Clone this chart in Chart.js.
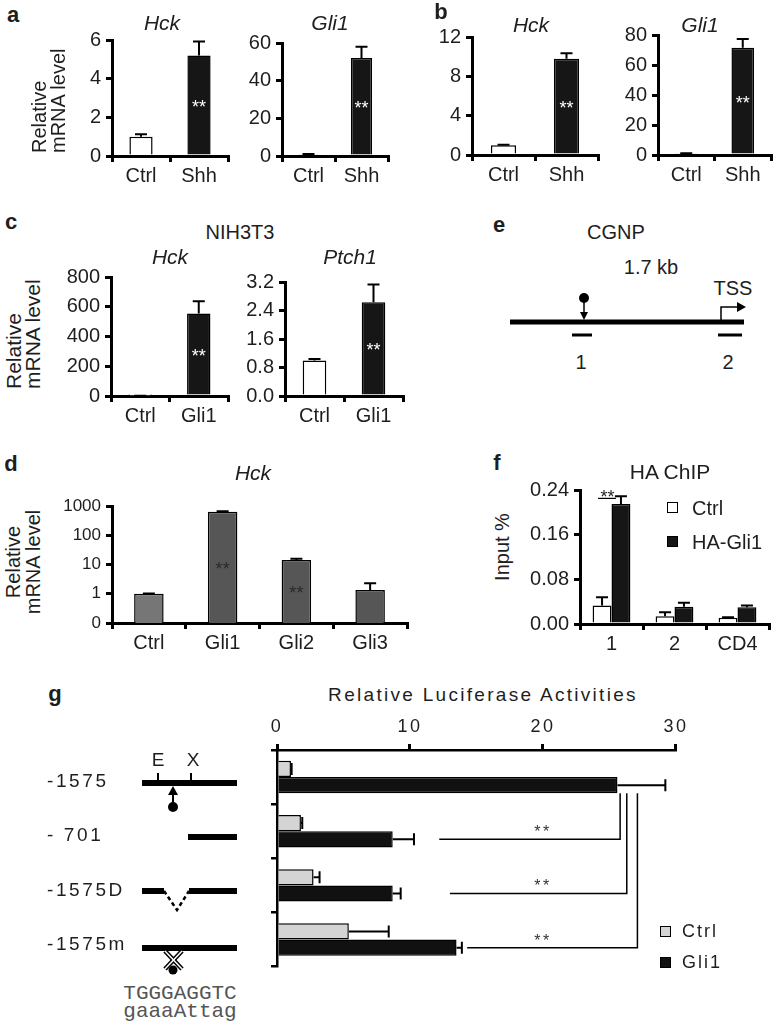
<!DOCTYPE html>
<html>
<head>
<meta charset="utf-8">
<title>Hck is a Gli1 target</title>
<script src="https://cdn.jsdelivr.net/npm/chart.js"></script>
<style>
  body { margin: 0; background: #fff; font-family: "Liberation Sans", Arial, sans-serif; color: #1e1e1e; }
  #fig { position: relative; width: 774px; height: 1021px; overflow: hidden; }
  #fig canvas { position: absolute; }
  #fig svg { position: absolute; left: 0; top: 0; }
  .t { position: absolute; white-space: nowrap; font-size: 20px; line-height: 1.1; transform: translate(-50%, -50%); }
  .L { position: absolute; white-space: nowrap; font-size: 20px; line-height: 1.1; transform: translateY(-50%); }
  .p { font-weight: bold; font-size: 22px; }
  .i { font-style: italic; font-size: 21px; }
  .r { transform: translate(-50%, -50%) rotate(-90deg); text-align: center; line-height: 20px; }
  .rs { position: absolute; white-space: nowrap; font-size: 20px; line-height: 19px; text-align: left;
        transform-origin: 0 0; transform: rotate(-90deg); }
  .g { font-size: 18px; letter-spacing: 2px; }
  .sq { position: absolute; width: 9px; height: 9px; border: 1.5px solid #000; }
  .seq { font-family: "Liberation Mono", "Courier New", monospace; font-size: 21px; color: #555; line-height: 1; }
</style>
</head>
<body>
<div id="fig">
  <svg width="774" height="1021" viewBox="0 0 774 1021">
    <!-- e: promoter scheme -->
    <line x1="510" y1="322" x2="744" y2="322" stroke="#000" stroke-width="5"/>
    <circle cx="584" cy="298" r="5" fill="#000"/>
    <line x1="584" y1="300" x2="584" y2="313" stroke="#000" stroke-width="1.5"/>
    <polygon points="580,312 588,312 584,320" fill="#000"/>
    <polyline points="721,320 721,307 737,307" fill="none" stroke="#000" stroke-width="1.5"/>
    <polygon points="737,302 746,307 737,312" fill="#000"/>
    <line x1="572" y1="335" x2="592" y2="335" stroke="#000" stroke-width="3"/>
    <line x1="718" y1="335" x2="742" y2="335" stroke="#000" stroke-width="3"/>
    <!-- g: reporter constructs -->
    <line x1="142" y1="783" x2="237" y2="783" stroke="#000" stroke-width="6"/>
    <line x1="158" y1="783" x2="158" y2="773" stroke="#000" stroke-width="2"/>
    <line x1="191" y1="783" x2="191" y2="773" stroke="#000" stroke-width="2"/>
    <polygon points="168,795 178,795 173,786" fill="#000"/>
    <line x1="173" y1="794" x2="173" y2="803" stroke="#000" stroke-width="2"/>
    <circle cx="173" cy="807" r="5" fill="#000"/>
    <line x1="188" y1="837" x2="237" y2="837" stroke="#000" stroke-width="6"/>
    <line x1="142" y1="891" x2="164" y2="891" stroke="#000" stroke-width="6"/>
    <line x1="189" y1="891" x2="237" y2="891" stroke="#000" stroke-width="6"/>
    <polyline points="164,891 177,910 189,891" fill="none" stroke="#000" stroke-width="2.5" stroke-dasharray="4,3"/>
    <line x1="142" y1="948" x2="237" y2="948" stroke="#000" stroke-width="6"/>
    <circle cx="173" cy="970" r="4.5" fill="#000"/>
    <g stroke-linecap="butt">
      <line x1="165" y1="951" x2="182" y2="969" stroke="#000" stroke-width="4.5"/>
      <line x1="182" y1="951" x2="165" y2="969" stroke="#000" stroke-width="4.5"/>
      <line x1="165" y1="951" x2="182" y2="969" stroke="#fff" stroke-width="1.5"/>
      <line x1="182" y1="951" x2="165" y2="969" stroke="#fff" stroke-width="1.5"/>
    </g>
  </svg>
</div>

<script>
  // ---- data ----
  const shhLabels = ['Ctrl', 'Shh'];
  const gliLabels = ['Ctrl', 'Gli1'];
  const sigSecond = [false, true];

  const aHck = [1.0, 5.2];      const aHckErr = [0.12, 0.72];
  const aGli1 = [0.9, 52];      const aGli1Err = [0.2, 6];
  const bHck = [1.0, 9.8];      const bHckErr = [0.05, 0.55];
  const bGli1 = [0.9, 71.5];    const bGli1Err = [0.2, 5.8];
  const cHck = [1.0, 555];      const cHckErr = [0.1, 82];
  const cPtch1 = [1.0, 2.63];   const cPtch1Err = [0.04, 0.5];

  const dLabels = ['Ctrl', 'Gli1', 'Gli2', 'Gli3'];
  const dHck = [1.0, 650, 14.5, 1.35];
  const dHckErr = [0.03, 15, 1.5, 0.95];
  const dSig = [false, true, true, false];
  const dTicks = [0.1, 1, 10, 100, 1000];

  const fLabels = ['1', '2', 'CD4'];
  const fCtrl = [0.033, 0.014, 0.011];  const fCtrlErr = [0.015, 0.007, 0.001];
  const fGli1 = [0.215, 0.031, 0.030];  const fGli1Err = [0.014, 0.007, 0.003];

  const gLabels = ['-1575', '- 701', '-1575D', '-1575m'];
  const gCtrl = [1.05, 1.8, 2.75, 5.4];    const gCtrlErr = [0.05, 0.1, 0.45, 3.0];
  const gGli1 = [25.6, 8.7, 8.7, 13.5];    const gGli1Err = [3.6, 1.6, 0.6, 0.4];
  const gBracketX = [25.8, 26.3, 27.1];
  const gBracketFrom = [12.2, 13.0, 14.3];

  Chart.defaults.font.family = '"Liberation Sans", Arial, sans-serif';
  Chart.defaults.font.size = 20;
  Chart.defaults.color = '#1e1e1e';

  const fig = document.getElementById('fig');

  function txt(html, x, y, cls, style) {
    const d = document.createElement('div');
    d.className = cls || 't';
    d.innerHTML = html;
    d.style.left = x + 'px';
    d.style.top = y + 'px';
    if (style) d.style.cssText += style;
    fig.appendChild(d);
  }

  function mkCanvas(r, m) {
    const c = document.createElement('canvas');
    const w = r[2] - r[0] + m.l + m.r, h = r[3] - r[1] + m.t + m.b;
    c.width = w; c.height = h;
    c.style.left = (r[0] - m.l) + 'px';
    c.style.top = (r[1] - m.t) + 'px';
    c.style.width = w + 'px';
    c.style.height = h + 'px';
    fig.appendChild(c);
    return c;
  }

  // one-sided error bars, drawn from the bar end outward
  const errorBars = {
    id: 'errorBars',
    afterDatasetsDraw(chart) {
      const ctx = chart.ctx;
      const horiz = chart.options.indexAxis === 'y';
      const vs = horiz ? chart.scales.x : chart.scales.y;
      chart.data.datasets.forEach((ds, i) => {
        if (!ds.errors) return;
        chart.getDatasetMeta(i).data.forEach((bar, j) => {
          const e = ds.errors[j];
          if (!e) return;
          const p1 = vs.getPixelForValue(ds.data[j]);
          const p2 = vs.getPixelForValue(ds.data[j] + e);
          const c = horiz ? bar.y : bar.x;
          const cap = 6;
          ctx.save();
          ctx.strokeStyle = '#000';
          ctx.lineWidth = 2;
          ctx.beginPath();
          if (horiz) {
            ctx.moveTo(p1, c); ctx.lineTo(p2, c);
            ctx.moveTo(p2, c - cap); ctx.lineTo(p2, c + cap);
          } else {
            ctx.moveTo(c, p1); ctx.lineTo(c, p2);
            ctx.moveTo(c - cap, p2); ctx.lineTo(c + cap, p2);
          }
          ctx.stroke();
          ctx.restore();
        });
      });
    }
  };

  // "**" written in the middle of the bar
  const stars = {
    id: 'stars',
    afterDatasetsDraw(chart) {
      const ctx = chart.ctx;
      chart.data.datasets.forEach((ds, i) => {
        if (!ds.stars) return;
        chart.getDatasetMeta(i).data.forEach((bar, j) => {
          if (!ds.stars[j]) return;
          ctx.save();
          ctx.fillStyle = ds.starColor || '#fff';
          ctx.font = '18px "Liberation Sans", Arial';
          ctx.textAlign = 'center';
          ctx.textBaseline = 'middle';
          ctx.fillText('**', bar.x, (bar.y + bar.base) / 2 + 3);
          ctx.restore();
        });
      });
    }
  };

  const axisGrid = { drawOnChartArea: false, drawTicks: true, tickLength: 6, lineWidth: 3, color: '#000' };
  const axisBorder = { display: true, width: 3, color: '#000' };

  function yLin(max, step, dec) {
    return {
      min: 0, max: max, grid: axisGrid, border: axisBorder,
      ticks: { stepSize: step, padding: 5, callback: v => v.toFixed(dec) }
    };
  }

  function vBar(r, m, labels, datasets, y, xFont, extra) {
    y.afterFit = s => { s.width = m.l; };
    return new Chart(mkCanvas(r, m), {
      type: 'bar',
      data: { labels: labels, datasets: datasets },
      options: Object.assign({
        responsive: false,
        animation: false,
        layout: { padding: { top: m.t, right: m.r, left: 0, bottom: 0 } },
        plugins: { legend: { display: false }, tooltip: { enabled: false } },
        datasets: { bar: { categoryPercentage: 1, barPercentage: 0.4, borderWidth: 1.5, borderColor: '#000' } },
        scales: {
          x: {
            grid: Object.assign({ offset: true }, axisGrid), border: axisBorder,
            ticks: { padding: 2, font: { size: xFont || 20 } },
            afterFit: s => { s.height = m.b; }
          },
          y: y
        }
      }, extra || {}),
      plugins: [errorBars, stars]
    });
  }

  function pair(vals, errs) {
    return [{
      data: vals, errors: errs, stars: sigSecond,
      backgroundColor: ['#fff', '#161616']
    }];
  }

  const M = { l: 52, t: 12, r: 6, b: 36 };

  // ---- a ----
  vBar([112, 35, 228, 156], M, shhLabels, pair(aHck, aHckErr), yLin(6, 2, 0));
  vBar([282, 38, 388, 156], M, shhLabels, pair(aGli1, aGli1Err), yLin(60, 20, 0));
  // ---- b ----
  vBar([472, 32, 598, 155], M, shhLabels, pair(bHck, bHckErr), yLin(12, 4, 0));
  vBar([658, 30, 771, 155], { l: 52, t: 12, r: 3, b: 36 }, shhLabels, pair(bGli1, bGli1Err), yLin(80, 20, 0));
  // ---- c ----
  vBar([111, 272, 228, 396], M, gliLabels, pair(cHck, cHckErr), yLin(800, 200, 0));
  vBar([285, 277, 403, 396], M, gliLabels, pair(cPtch1, cPtch1Err), yLin(3.2, 0.8, 1));

  // ---- d (log scale) ----
  vBar([112, 503, 407, 623], { l: 60, t: 12, r: 6, b: 36 }, dLabels, [{
    data: dHck, errors: dHckErr, stars: dSig, starColor: '#2a2a2a',
    backgroundColor: ['#767676', '#565656', '#565656', '#565656']
  }], {
    type: 'logarithmic', min: 0.1, max: 1000, grid: axisGrid, border: axisBorder,
    afterBuildTicks: s => { s.ticks = dTicks.map(v => ({ value: v })); },
    ticks: { padding: 5, font: { size: 17 }, callback: v => (v < 1 ? '0' : String(v)) }
  });

  // ---- f (grouped) ----
  const fSig = {
    id: 'fSig',
    afterDatasetsDraw(chart) {
      const ctx = chart.ctx;
      const a = chart.getDatasetMeta(0).data[0], b = chart.getDatasetMeta(1).data[0];
      const y = chart.scales.y.getPixelForValue(0.225);
      ctx.save();
      ctx.strokeStyle = '#000'; ctx.lineWidth = 1.2;
      ctx.beginPath(); ctx.moveTo(a.x - 4, y); ctx.lineTo(b.x - 5, y); ctx.stroke();
      ctx.fillStyle = '#1e1e1e'; ctx.font = '18px "Liberation Sans", Arial';
      ctx.textAlign = 'center'; ctx.textBaseline = 'alphabetic';
      ctx.fillText('**', (a.x + b.x) / 2 - 4, y + 5);
      ctx.restore();
    }
  };
  const fy = yLin(0.24, 0.08, 2);
  const fChart = vBar([580, 485, 769, 624], { l: 62, t: 12, r: 4, b: 38 }, fLabels, [
    { label: 'Ctrl', data: fCtrl, errors: fCtrlErr, backgroundColor: '#fff' },
    { label: 'HA-Gli1', data: fGli1, errors: fGli1Err, backgroundColor: '#161616' }
  ], fy, 20, { datasets: { bar: { categoryPercentage: 0.6, barPercentage: 1, borderWidth: 1.5, borderColor: '#000' } } });
  fChart.config.plugins.push(fSig);
  fChart.update();

  // ---- g (horizontal) ----
  const spacing = {
    id: 'spacing',
    beforeDraw(chart) { chart.ctx.letterSpacing = '2.6px'; }
  };
  const gBrackets = {
    id: 'gBrackets',
    afterDatasetsDraw(chart) {
      const ctx = chart.ctx, xs = chart.scales.x;
      const bars = chart.getDatasetMeta(1).data;
      const top = bars[0].y + bars[0].height / 2;
      ctx.save();
      ctx.strokeStyle = '#000'; ctx.lineWidth = 1.5;
      ctx.fillStyle = '#333'; ctx.font = '16px "Liberation Sans", Arial';
      ctx.textAlign = 'center'; ctx.textBaseline = 'alphabetic';
      gBracketX.forEach((bx, k) => {
        const y = bars[k + 1].y;
        const px = xs.getPixelForValue(bx);
        ctx.beginPath();
        ctx.moveTo(px, top); ctx.lineTo(px, y);
        ctx.lineTo(xs.getPixelForValue(gBracketFrom[k]), y);
        ctx.stroke();
        ctx.fillText('**', xs.getPixelForValue(20), y - 2);
      });
      ctx.restore();
    }
  };
  const gm = { l: 230, t: 36, r: 10, b: 6 };
  new Chart(mkCanvas([277, 750, 682, 975], gm), {
    type: 'bar',
    data: {
      labels: gLabels,
      datasets: [
        { label: 'Ctrl', data: gCtrl, errors: gCtrlErr, backgroundColor: '#d4d4d4' },
        { label: 'Gli1', data: gGli1, errors: gGli1Err, backgroundColor: '#111' }
      ]
    },
    options: {
      indexAxis: 'y',
      responsive: false,
      animation: false,
      layout: { padding: { top: 0, right: gm.r, left: 0, bottom: gm.b } },
      plugins: { legend: { display: false }, tooltip: { enabled: false } },
      datasets: { bar: { categoryPercentage: 0.6, barPercentage: 1, borderWidth: 1.5, borderColor: '#000' } },
      scales: {
        x: {
          position: 'top', min: 0, max: 30,
          grid: axisGrid, border: { display: true, width: 2.5, color: '#000' },
          ticks: { stepSize: 10, padding: 6, font: { size: 18 } },
          afterFit: s => { s.height = gm.t; }
        },
        y: {
          grid: Object.assign({ offset: true }, axisGrid, { lineWidth: 2.5 }),
          border: { display: true, width: 2.5, color: '#000' },
          ticks: { crossAlign: 'far', labelOffset: 5, font: { size: 19 } },
          afterFit: s => { s.width = gm.l; }
        }
      }
    },
    plugins: [spacing, errorBars, gBrackets]
  });

  // ---- text ----
  txt('a', 13, 15, 't p');
  txt('b', 441, 12, 't p');
  txt('c', 11, 222, 't p');
  txt('d', 11, 464, 't p');
  txt('e', 499, 225, 't p');
  txt('f', 497, 463, 't p');
  txt('g', 55, 694, 't p');

  txt('Hck', 162, 23, 't i');
  txt('Gli1', 330, 23, 't i');
  txt('Hck', 531, 25, 't i');
  txt('Gli1', 700, 25, 't i');
  txt('NIH3T3', 240, 232);
  txt('Hck', 170, 257, 't i');
  txt('Ptch1', 350, 257, 't i');
  txt('Hck', 253, 473, 't i');

  txt('Relative<br>mRNA level', 30, 153, 'rs');
  txt('Relative<br>mRNA level', 4, 389, 'rs', 'font-size:21px');
  txt('Relative<br>mRNA level', 23, 562, 't r');
  txt('Input %', 502, 547, 't r');

  txt('CGNP', 616, 232);
  txt('1.7 kb', 651, 267);
  txt('TSS', 733, 288);
  txt('1', 581, 362);
  txt('2', 728, 362);

  txt('HA ChIP', 670, 472, 't', 'font-size:21px');
  fig.insertAdjacentHTML('beforeend',
    '<div class="sq" style="left:667px;top:502px;background:#fff"></div>' +
    '<div class="sq" style="left:667px;top:536px;background:#161616"></div>' +
    '<div class="sq" style="left:660px;top:926px;background:#d4d4d4"></div>' +
    '<div class="sq" style="left:660px;top:957px;background:#111"></div>');
  txt('Ctrl', 692, 508, 'L');
  txt('HA-Gli1', 692, 542, 'L');

  txt('Relative Luciferase Activities', 483, 695, 't g', 'font-size:19px;letter-spacing:2.3px');
  txt('E', 158, 760, 't', 'font-size:19px');
  txt('X', 193, 760, 't', 'font-size:19px');
  txt('Ctrl', 682, 932, 'L g');
  txt('Gli1', 682, 963, 'L g');
  txt('TGGGAGGTC', 180, 993, 't seq');
  txt('gaaaAttag', 180, 1011, 't seq');
</script>
</body>
</html>
